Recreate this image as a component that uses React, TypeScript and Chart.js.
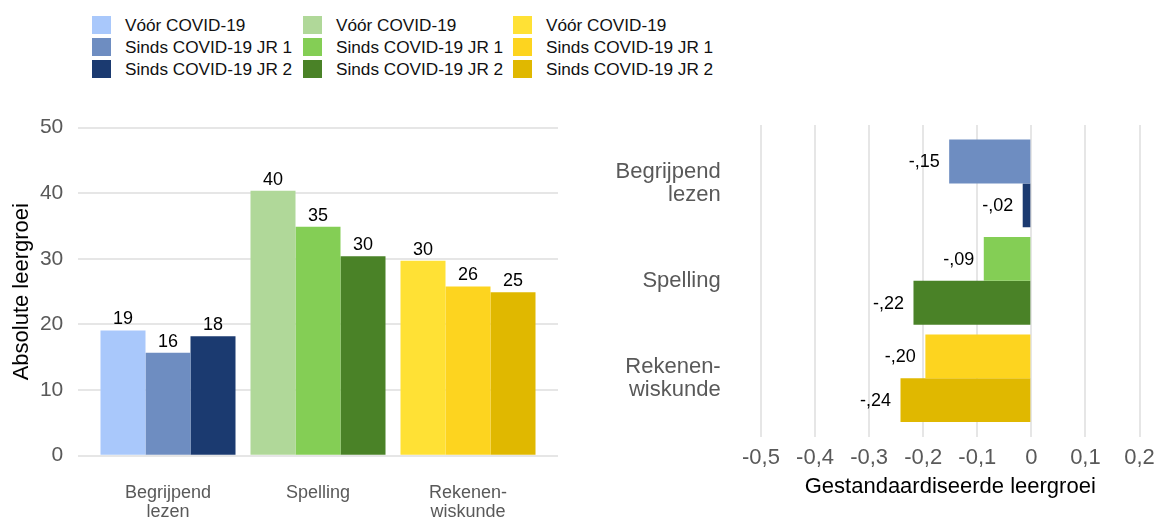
import React, { useEffect, useRef } from 'react';
import { Chart, registerables } from 'chart.js';

Chart.register(...registerables);

const FONT = '"Liberation Sans", Arial, Helvetica, sans-serif';

// ---- data ----
const categories: string[][] = [['Begrijpend', 'lezen'], ['Spelling'], ['Rekenen-', 'wiskunde']];
const categoryIndex = [0, 1, 2];
const seriesNames = ['Vóór COVID-19', 'Sinds COVID-19 JR 1', 'Sinds COVID-19 JR 2'];

// absolute learning growth (left panel)
const absVoor = [19.1, 40.4, 29.7];
const absJr1 = [15.7, 34.9, 25.8];
const absJr2 = [18.2, 30.4, 24.9];

// standardised learning growth (right panel)
const stdJr1 = [-0.152, -0.088, -0.196];
const stdJr2 = [-0.016, -0.218, -0.242];

const leftYTicks = [0, 10, 20, 30, 40, 50];
const rightXTicks = [-0.5, -0.4, -0.3, -0.2, -0.1, 0, 0.1, 0.2];

// colours per category (blue, green, yellow)
const colorsVoor = ['#A9C8FB', '#B0D899', '#FFE135'];
const colorsJr1 = ['#6E8DC1', '#84CE55', '#FDD41F'];
const colorsJr2 = ['#1B3A70', '#4A8227', '#E0B800'];

const GRID = '#e6e6e6';
const TICK = '#595959';

const toPoints = (vals: number[]) => vals.map((v, i) => ({ x: categoryIndex[i], y: v }));
const toPointsH = (vals: number[]) => vals.map((v, i) => ({ x: v, y: categoryIndex[i] }));

const fmtStd = (v: number) => '-,' + String(Math.round(Math.abs(v) * 100)).padStart(2, '0');
const fmtTick = (v: number) => (Math.abs(v) < 1e-9 ? '0' : v.toFixed(1).replace('.', ','));

const noPad = (s: any) => {
  s.paddingTop = 0;
  s.paddingBottom = 0;
  s.paddingLeft = 0;
  s.paddingRight = 0;
};

const leftLabelPlugin = {
  id: 'leftLabels',
  afterDatasetsDraw(chart: any) {
    const ctx = chart.ctx;
    ctx.save();
    ctx.font = `18px ${FONT}`;
    ctx.fillStyle = '#000';
    ctx.textAlign = 'center';
    ctx.textBaseline = 'alphabetic';
    chart.data.datasets.forEach((ds: any, di: number) => {
      const meta = chart.getDatasetMeta(di);
      meta.data.forEach((el: any, i: number) => {
        ctx.fillText(String(Math.round(ds.data[i].y)), el.x, el.y - 6);
      });
    });
    ctx.restore();
  },
};

const rightLabelPlugin = {
  id: 'rightLabels',
  afterDatasetsDraw(chart: any) {
    const ctx = chart.ctx;
    ctx.save();
    ctx.font = `18px ${FONT}`;
    ctx.fillStyle = '#000';
    ctx.textAlign = 'right';
    ctx.textBaseline = 'middle';
    chart.data.datasets.forEach((ds: any, di: number) => {
      const meta = chart.getDatasetMeta(di);
      meta.data.forEach((el: any, i: number) => {
        ctx.fillText(fmtStd(ds.data[i].x), el.x - 9.5, el.y + 1);
      });
    });
    ctx.restore();
  },
};

function LeftChart() {
  const ref = useRef<HTMLCanvasElement>(null);
  useEffect(() => {
    const chart = new Chart(ref.current!, {
      type: 'bar',
      data: {
        datasets: [
          { label: seriesNames[0], data: toPoints(absVoor), backgroundColor: colorsVoor, borderWidth: 0 },
          { label: seriesNames[1], data: toPoints(absJr1), backgroundColor: colorsJr1, borderWidth: 0 },
          { label: seriesNames[2], data: toPoints(absJr2), backgroundColor: colorsJr2, borderWidth: 0 },
        ],
      },
      options: {
        animation: false,
        responsive: false,
        maintainAspectRatio: false,
        layout: { padding: { top: 27.7, right: 22, left: 0, bottom: 0 } },
        datasets: { bar: { categoryPercentage: 0.9, barPercentage: 1 } },
        plugins: { legend: { display: false }, tooltip: { enabled: false } },
        scales: {
          x: {
            type: 'linear',
            offset: false,
            min: -0.6,
            max: 2.6,
            grid: { display: false, drawTicks: false, offset: false },
            border: { display: false },
            afterBuildTicks: (s: any) => { s.ticks = categoryIndex.map((v) => ({ value: v })); },
            afterFit: (s: any) => { s.height = 63.3; noPad(s); },
            ticks: {
              padding: 28,
              maxRotation: 0,
              autoSkip: false,
              color: TICK,
              font: { family: FONT, size: 18, lineHeight: 1.05 },
              callback: (v: any) => categories[v],
            },
          },
          y: {
            type: 'linear',
            min: 0,
            max: 50,
            grid: { color: GRID, lineWidth: 2, drawTicks: false },
            border: { display: false },
            afterBuildTicks: (s: any) => { s.ticks = leftYTicks.map((v) => ({ value: v })); },
            afterFit: (s: any) => { s.width = 78; noPad(s); },
            ticks: { padding: 14.7, color: TICK, font: { family: FONT, size: 21 } },
            title: {
              display: true,
              text: 'Absolute leergroei',
              color: '#000',
              font: { family: FONT, size: 22 },
              padding: { top: 8.5, bottom: 0 },
            },
          },
        },
      } as any,
      plugins: [leftLabelPlugin],
    });
    return () => chart.destroy();
  }, []);
  return (
    <canvas
      ref={ref}
      width={580}
      height={419}
      style={{ position: 'absolute', left: 0, top: 100, width: 580, height: 419 }}
    />
  );
}

function RightChart() {
  const ref = useRef<HTMLCanvasElement>(null);
  useEffect(() => {
    const chart = new Chart(ref.current!, {
      type: 'bar',
      data: {
        datasets: [
          { label: seriesNames[1], data: toPointsH(stdJr1), backgroundColor: colorsJr1, borderWidth: 0 },
          { label: seriesNames[2], data: toPointsH(stdJr2), backgroundColor: colorsJr2, borderWidth: 0 },
        ],
      },
      options: {
        indexAxis: 'y',
        animation: false,
        responsive: false,
        maintainAspectRatio: false,
        layout: { padding: { top: 25, right: 20.5, left: 0, bottom: 0 } },
        datasets: { bar: { categoryPercentage: 0.9, barPercentage: 1 } },
        plugins: { legend: { display: false }, tooltip: { enabled: false } },
        scales: {
          y: {
            type: 'linear',
            offset: false,
            reverse: true,
            min: -0.6,
            max: 2.6,
            grid: { display: false, drawTicks: false, offset: false },
            border: { display: false },
            afterBuildTicks: (s: any) => { s.ticks = categoryIndex.map((v) => ({ value: v })); },
            afterFit: (s: any) => { s.width = 171; noPad(s); },
            ticks: {
              padding: 40.3,
              autoSkip: false,
              color: TICK,
              font: { family: FONT, size: 22, lineHeight: 1.05 },
              callback: (v: any) => categories[v],
            },
          },
          x: {
            type: 'linear',
            min: -0.5,
            max: 0.2,
            grid: { color: GRID, lineWidth: 2, drawTicks: false },
            border: { display: false },
            afterBuildTicks: (s: any) => { s.ticks = rightXTicks.map((v) => ({ value: v })); },
            afterFit: (s: any) => { s.height = 82.3; noPad(s); },
            ticks: {
              padding: 8.4,
              maxRotation: 0,
              autoSkip: false,
              color: TICK,
              font: { family: FONT, size: 22 },
              callback: (v: any) => fmtTick(v),
            },
            title: {
              display: true,
              text: 'Gestandaardiseerde leergroei',
              color: '#000',
              font: { family: FONT, size: 22 },
              padding: { top: 0, bottom: 19.1 },
            },
          },
        },
      } as any,
      plugins: [rightLabelPlugin],
    });
    return () => chart.destroy();
  }, []);
  return (
    <canvas
      ref={ref}
      width={570}
      height={419}
      style={{ position: 'absolute', left: 590, top: 100, width: 570, height: 419 }}
    />
  );
}

const legendCols = [
  { boxX: 91.7, colors: [colorsVoor[0], colorsJr1[0], colorsJr2[0]] },
  { boxX: 302.7, colors: [colorsVoor[1], colorsJr1[1], colorsJr2[1]] },
  { boxX: 512.7, colors: [colorsVoor[2], colorsJr1[2], colorsJr2[2]] },
];
const legendRowTops = [16, 38.3, 60.3];

function Legend() {
  return (
    <>
      {legendCols.map((col, ci) =>
        seriesNames.map((name, ri) => (
          <div
            key={`${ci}-${ri}`}
            style={{
              position: 'absolute',
              left: col.boxX,
              top: legendRowTops[ri],
              height: 18,
              display: 'flex',
              alignItems: 'center',
              whiteSpace: 'nowrap',
            }}
          >
            <div style={{ width: 19, height: 18, background: col.colors[ri], marginRight: 14.3 }} />
            <span style={{ fontFamily: FONT, fontSize: 17.2, color: '#111', lineHeight: '18px' }}>{name}</span>
          </div>
        ))
      )}
    </>
  );
}

export default function App() {
  return (
    <div style={{ position: 'absolute', left: 0, top: 0, width: 1160, height: 519, background: '#fff', overflow: 'hidden' }}>
      <Legend />
      <LeftChart />
      <RightChart />
    </div>
  );
}
